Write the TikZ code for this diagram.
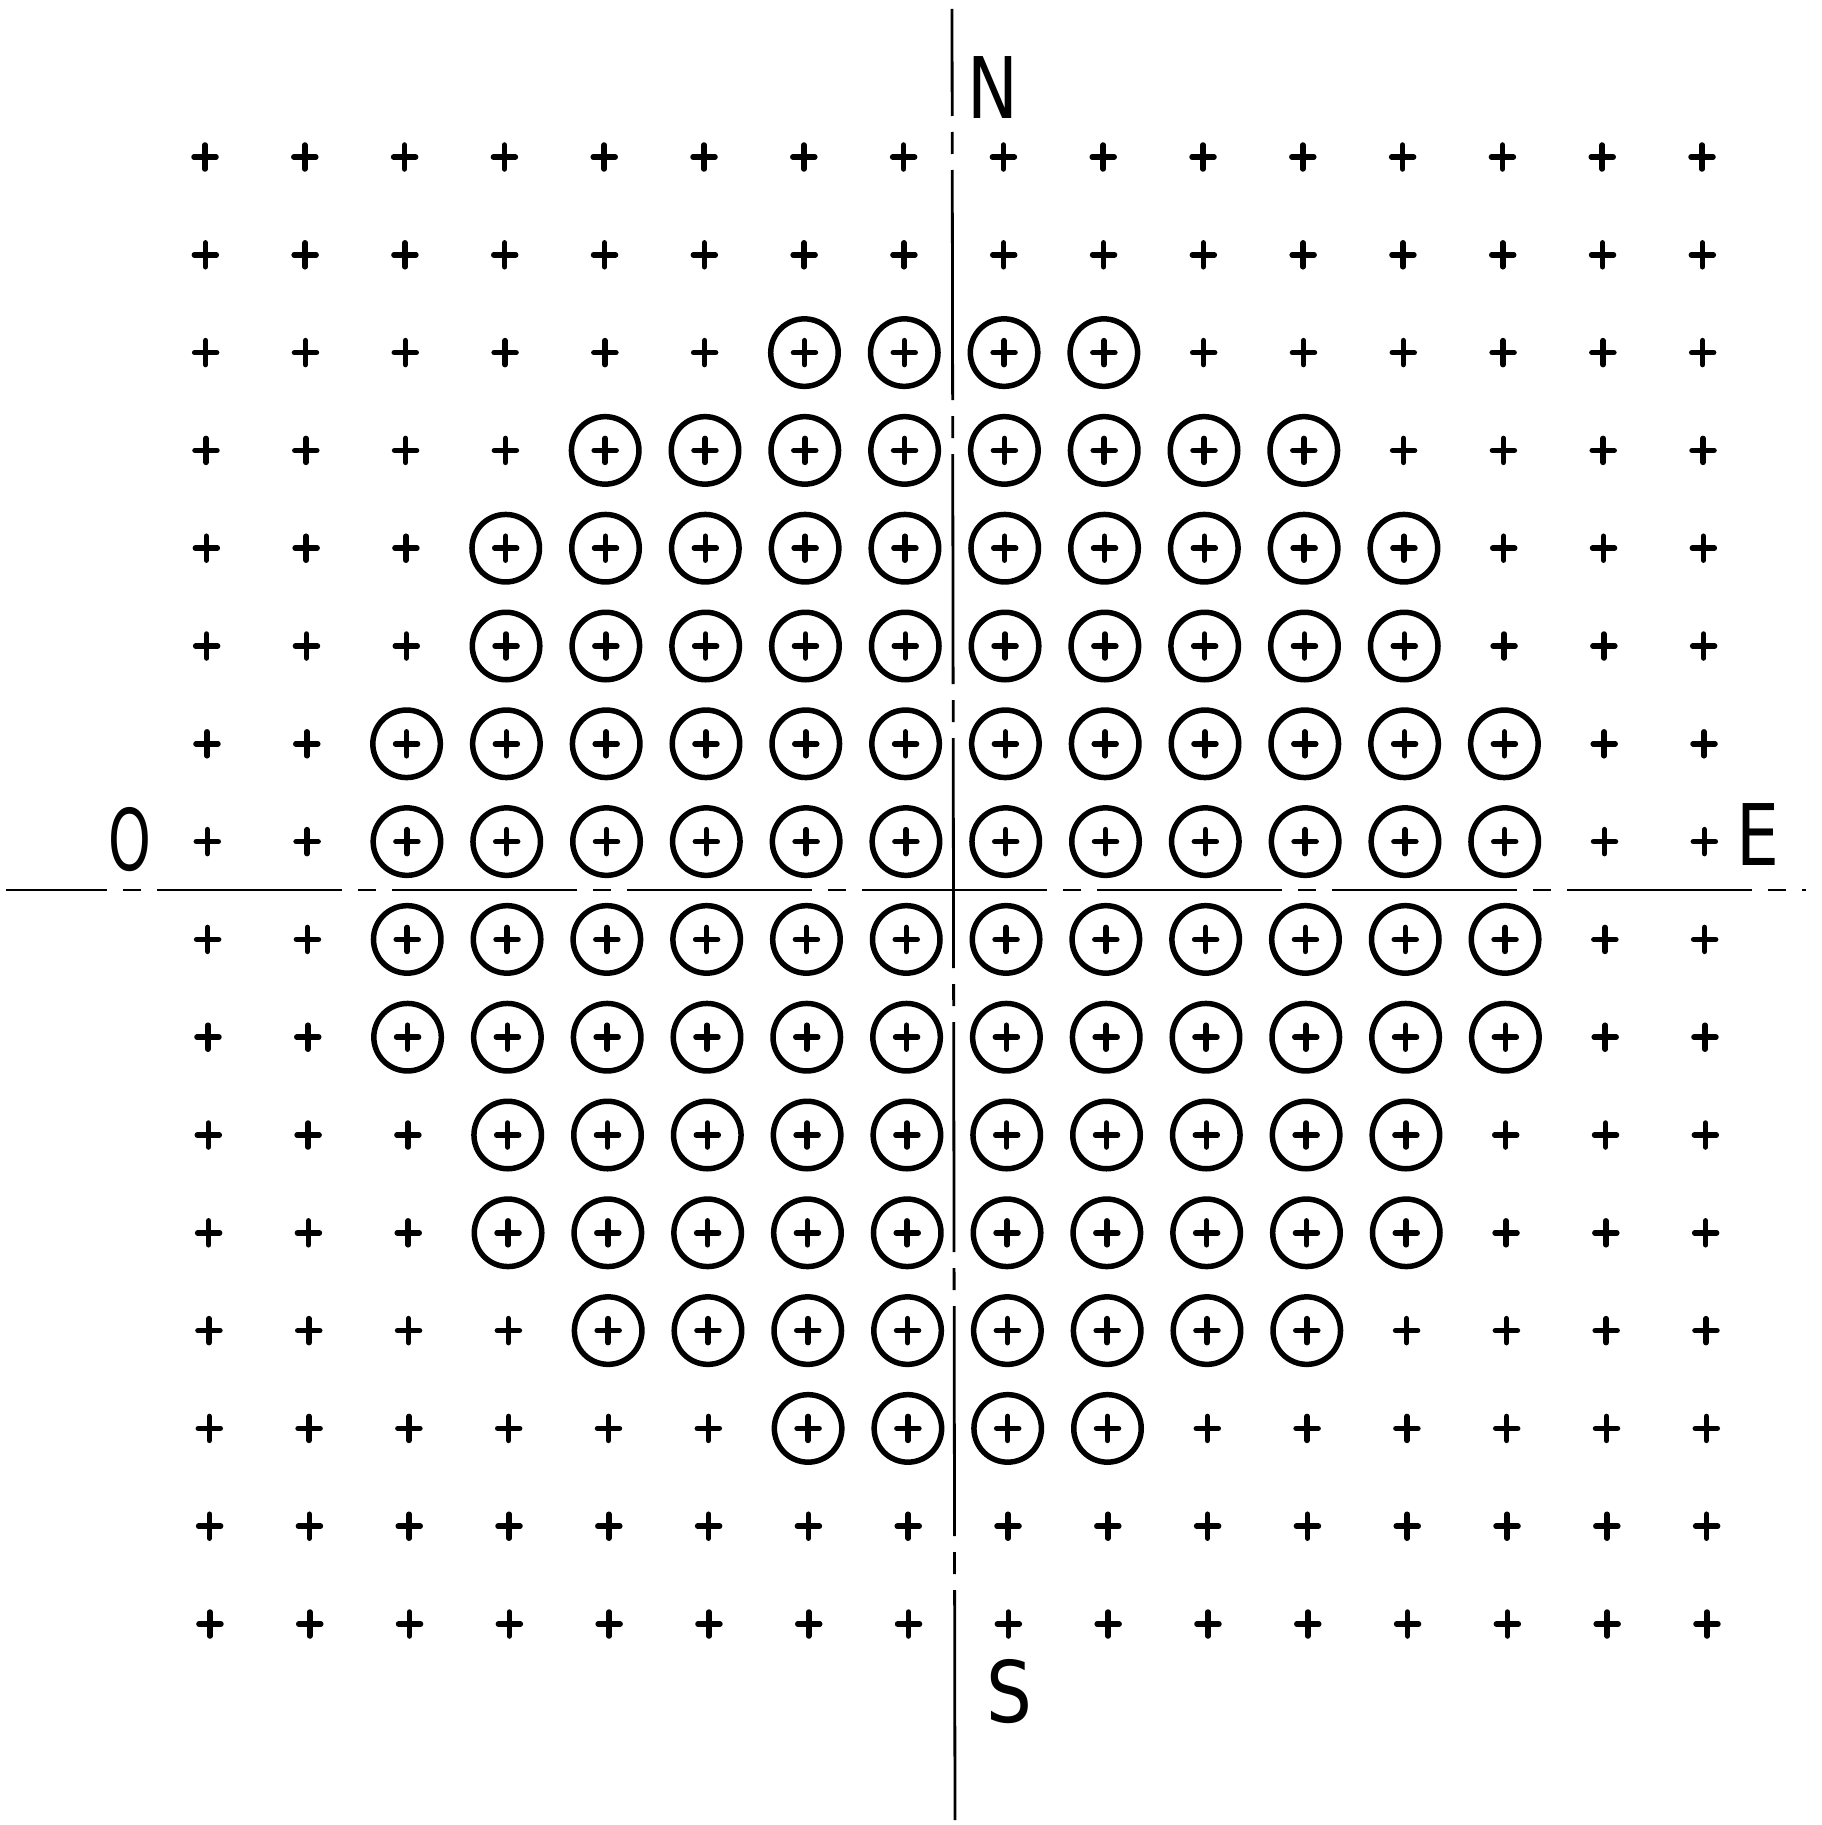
\documentclass[tikz,border=0pt]{standalone}
\usepackage{fontspec}
\setmainfont{DejaVu Sans}
\begin{document}
\begin{tikzpicture}[x=1pt,y=-1pt,
  plusmark/.style={line width=5.5pt,line cap=round},
  ring/.style={circle,draw,line width=5.5pt,minimum size=67.5pt,inner sep=0pt},
  axisline/.style={line width=2.8pt},
  lbl/.style={inner sep=0pt,font=\fontsize{85}{85}\selectfont}]
\useasboundingbox[fill=white] (0,0) rectangle (1821,1825);
% grid of plus signs
\foreach \r in {0,...,15}{
  \foreach \c in {0,...,15}{
    \coordinate (p-\r-\c) at ({205+99.8*\c+0.33*\r},{157+97.8*\r});
    \draw[plusmark] ([xshift=-11pt]p-\r-\c) -- ([xshift=11pt]p-\r-\c)
                    ([yshift=-12pt]p-\r-\c) -- ([yshift=12pt]p-\r-\c);
  }
}
% circled positions
\foreach \r/\lo in {2/6,3/4,4/3,5/3,6/2,7/2,8/2,9/2,10/3,11/3,12/4,13/6}{
  \pgfmathtruncatemacro{\hi}{15-\lo}
  \foreach \c in {\lo,...,\hi}{
    \node[ring] (c-\r-\c) at (p-\r-\c) {};
  }
}
% axes
\coordinate (ntop) at (952,9);
\coordinate (sbot) at (955,1825);
\coordinate (wend) at (6,890);
\coordinate (eend) at (1806,890);
\draw[axisline,dash pattern=on 230pt off 16pt on 22pt off 16pt,dash phase=123pt] (ntop) -- (sbot);
\draw[axisline,dash pattern=on 185pt off 16pt on 18pt off 16pt,dash phase=84pt] (wend) -- (eend);
% labels
\node[lbl,xscale=0.8] (N) at (993,88) {N};
\node[lbl,xscale=0.85] (S) at (1009,1692) {S};
\node[lbl,xscale=0.64] (O) at (130,840) {O};
\node[lbl,xscale=0.8] (E) at (1758,835) {E};
\end{tikzpicture}
\end{document}
